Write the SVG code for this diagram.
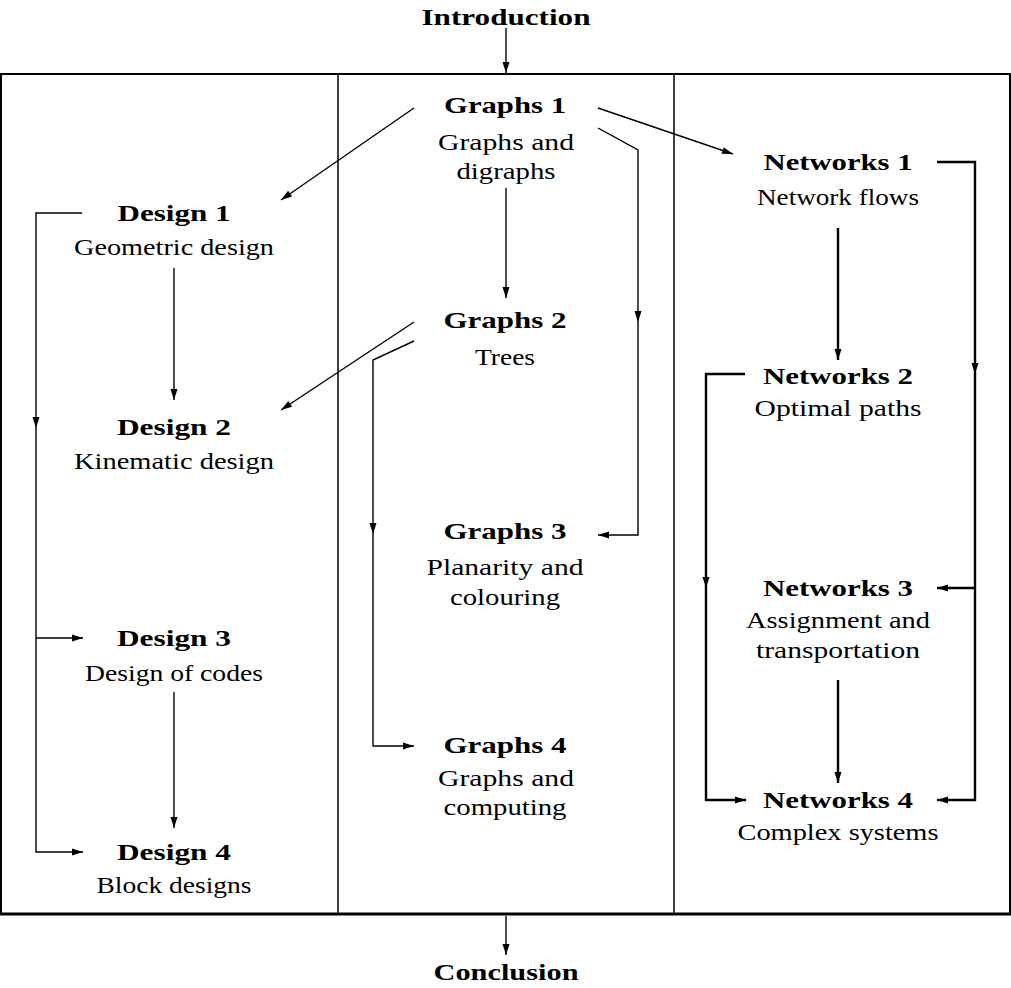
<svg xmlns="http://www.w3.org/2000/svg" xmlns:xlink="http://www.w3.org/1999/xlink" width="1011" height="988" viewBox="0 0 1011 988">
<style>
text{font-family:"Liberation Serif","DejaVu Serif",serif;font-size:24px;fill:#000;text-anchor:middle}
.t{font-weight:bold}
.c{fill:none;stroke:#000;stroke-width:1.4}
.k{fill:none;stroke:#000;stroke-width:2.4}
.frame{fill:none;stroke:#000;stroke-width:2}
</style>
<defs>
<marker id="a" markerUnits="userSpaceOnUse" markerWidth="14" markerHeight="10" viewBox="-12 -5 14 10" refX="0" refY="0" orient="auto">
<path d="M0,0 L-11,-3.5 L-11,3.5 Z" fill="#000"/>
</marker>
<path id="ah" d="M0,0 L-11,-3.5 L-11,3.5 Z" fill="#000"/>
</defs>
<rect x="0" y="0" width="1011" height="988" fill="#fff"/>
<g id="frame">
<rect class="frame" x="1" y="74" width="1009" height="840"/>
<line x1="0" y1="914" x2="1011" y2="914" stroke="#000" stroke-width="3"/>
<line x1="338" y1="74" x2="338" y2="914" stroke="#000" stroke-width="1.5"/>
<line x1="674" y1="74" x2="674" y2="914" stroke="#000" stroke-width="1.5"/>
</g>
<g id="connectors">
<path class="c" d="M506,28 V73" marker-end="url(#a)"/>
<path class="c" d="M506,916 V955" marker-end="url(#a)"/>
<path class="c" d="M414,108 L281,200" marker-end="url(#a)"/>
<path class="c" d="M598,108 L733,154" marker-end="url(#a)"/>
<path class="c" d="M598,128 L638,150 V535 H598" marker-end="url(#a)"/>
<use xlink:href="#ah" transform="translate(638,322) rotate(90)"/>
<path class="c" d="M506,188 V298" marker-end="url(#a)"/>
<path class="c" d="M414,322 L281,410" marker-end="url(#a)"/>
<path class="c" d="M414,341 L373,360 V746 H414" marker-end="url(#a)"/>
<use xlink:href="#ah" transform="translate(373,534) rotate(90)"/>
<path class="c" d="M174,268 V400" marker-end="url(#a)"/>
<path class="c" d="M82,213 H36 V852 H83" marker-end="url(#a)"/>
<use xlink:href="#ah" transform="translate(36,428) rotate(90)"/>
<path class="c" d="M36,638 H83" marker-end="url(#a)"/>
<path class="c" d="M174,692 V828" marker-end="url(#a)"/>
<path class="k" d="M838,228 V360" marker-end="url(#a)"/>
<path class="k" d="M937,162 H975 V800 H937" marker-end="url(#a)"/>
<use xlink:href="#ah" transform="translate(975,374) rotate(90)"/>
<path class="k" d="M975,588 H937" marker-end="url(#a)"/>
<path class="k" d="M745,374 H706 V800 H746" marker-end="url(#a)"/>
<use xlink:href="#ah" transform="translate(706,588) rotate(90)"/>
<path class="k" d="M838,680 V783" marker-end="url(#a)"/>
</g>
<g id="introduction"><text class="t" x="506" y="25" textLength="169" lengthAdjust="spacingAndGlyphs">Introduction</text></g>
<g id="conclusion"><text class="t" x="506" y="980" textLength="145" lengthAdjust="spacingAndGlyphs">Conclusion</text></g>
<g id="design1"><text class="t" x="174" y="221" textLength="113" lengthAdjust="spacingAndGlyphs">Design 1</text><text x="174" y="255" textLength="200" lengthAdjust="spacingAndGlyphs">Geometric design</text></g>
<g id="design2"><text class="t" x="174" y="435" textLength="114" lengthAdjust="spacingAndGlyphs">Design 2</text><text x="174" y="469" textLength="200" lengthAdjust="spacingAndGlyphs">Kinematic design</text></g>
<g id="design3"><text class="t" x="174" y="646" textLength="114" lengthAdjust="spacingAndGlyphs">Design 3</text><text x="174" y="681" textLength="178" lengthAdjust="spacingAndGlyphs">Design of codes</text></g>
<g id="design4"><text class="t" x="174" y="860" textLength="114" lengthAdjust="spacingAndGlyphs">Design 4</text><text x="174" y="893" textLength="155" lengthAdjust="spacingAndGlyphs">Block designs</text></g>
<g id="graphs1"><text class="t" x="505" y="113" textLength="122" lengthAdjust="spacingAndGlyphs">Graphs 1</text><text x="506" y="150" textLength="136" lengthAdjust="spacingAndGlyphs">Graphs and</text><text x="506" y="179" textLength="99" lengthAdjust="spacingAndGlyphs">digraphs</text></g>
<g id="graphs2"><text class="t" x="505" y="328" textLength="123" lengthAdjust="spacingAndGlyphs">Graphs 2</text><text x="505" y="365" textLength="60" lengthAdjust="spacingAndGlyphs">Trees</text></g>
<g id="graphs3"><text class="t" x="505" y="539" textLength="123" lengthAdjust="spacingAndGlyphs">Graphs 3</text><text x="505" y="575" textLength="157" lengthAdjust="spacingAndGlyphs">Planarity and</text><text x="505" y="605" textLength="110" lengthAdjust="spacingAndGlyphs">colouring</text></g>
<g id="graphs4"><text class="t" x="505" y="753" textLength="123" lengthAdjust="spacingAndGlyphs">Graphs 4</text><text x="506" y="786" textLength="136" lengthAdjust="spacingAndGlyphs">Graphs and</text><text x="505" y="815" textLength="123" lengthAdjust="spacingAndGlyphs">computing</text></g>
<g id="networks1"><text class="t" x="838" y="170" textLength="149" lengthAdjust="spacingAndGlyphs">Networks 1</text><text x="838" y="205" textLength="162" lengthAdjust="spacingAndGlyphs">Network flows</text></g>
<g id="networks2"><text class="t" x="838" y="384" textLength="150" lengthAdjust="spacingAndGlyphs">Networks 2</text><text x="838" y="416" textLength="167" lengthAdjust="spacingAndGlyphs">Optimal paths</text></g>
<g id="networks3"><text class="t" x="838" y="596" textLength="150" lengthAdjust="spacingAndGlyphs">Networks 3</text><text x="838" y="628" textLength="184" lengthAdjust="spacingAndGlyphs">Assignment and</text><text x="838" y="658" textLength="164" lengthAdjust="spacingAndGlyphs">transportation</text></g>
<g id="networks4"><text class="t" x="838" y="808" textLength="150" lengthAdjust="spacingAndGlyphs">Networks 4</text><text x="838" y="840" textLength="201" lengthAdjust="spacingAndGlyphs">Complex systems</text></g>
</svg>
